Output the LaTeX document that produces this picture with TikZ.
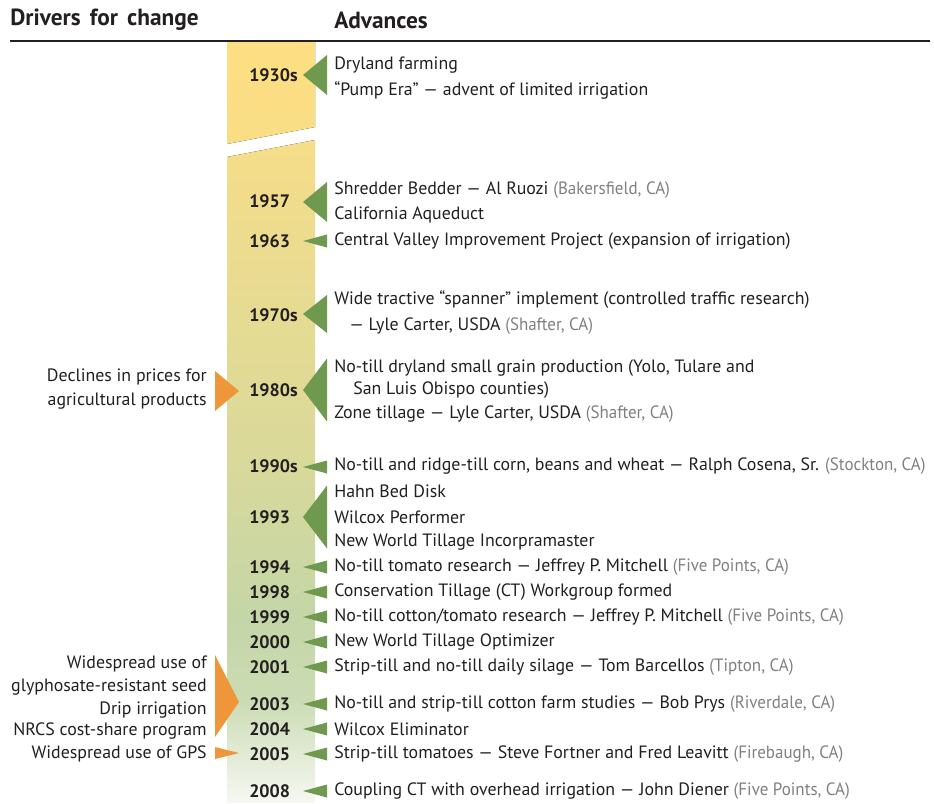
\documentclass[tikz,border=0pt]{standalone}
\usepackage{fontspec}
\setmainfont{PT Sans}
\newfontfamily\locfont[FakeStretch=0.95]{PT Sans}
\definecolor{txt}{RGB}{35,31,32}
\definecolor{locgray}{RGB}{128,128,128}
\definecolor{tgreen}{RGB}{111,153,79}
\definecolor{torange}{RGB}{240,150,58}
\newcommand\locn[1]{{\locfont\color{locgray}#1}}
\tikzset{
  adv/.style={anchor=west,inner sep=0pt,text=txt,font=\fontsize{13.4}{15}\selectfont},
  drv/.style={anchor=east,inner sep=0pt,text=txt,font=\fontsize{13.4}{15}\selectfont},
  yr/.style={anchor=west,inner sep=0pt,text=txt,font=\fontsize{13.5}{15}\selectfont\bfseries},
  hdr/.style={anchor=west,inner sep=0pt,text=txt,font=\fontsize{17.5}{19}\selectfont\bfseries},
  gtri/.style={fill=tgreen},
  otri/.style={fill=torange}
}
\newcommand\gsmall[1]{\fill[gtri] (303,#1) -- (327,{#1-6.5}) -- (327,{#1+6.5}) -- cycle;}
\newcommand\gbig[2]{\fill[gtri] (303,#1) -- (327,{#1-#2}) -- (327,{#1+#2}) -- cycle;}
\begin{document}
\begin{tikzpicture}[x=0.75pt,y=-0.75pt]
\useasboundingbox (0,0) rectangle (934,803);
% header
\node[hdr] (hdrA) at (10,20) {Drivers\hspace{2.5pt} for\hspace{2.5pt} change};
\node[hdr] (hdrB) at (334,20) {Advances};
\draw[txt,line width=1.6pt] (10,41) -- (930,41);
% bar top piece
\fill[top color={rgb,255:red,253;green,222;blue,130},bottom color={rgb,255:red,249;green,222;blue,134}]
  (227,42) -- (315,42) -- (315,127) -- (227,144) -- cycle;
% bar lower piece
\begin{scope}
\clip (227,157) -- (315,140) -- (315,803) -- (227,803) -- cycle;
\fill[top color={rgb,255:red,246;green,221;blue,137},bottom color={rgb,255:red,231;green,219;blue,146}] (227,139) rectangle (315,300.5);
\fill[top color={rgb,255:red,231;green,219;blue,146},bottom color={rgb,255:red,218;green,217;blue,153}] (227,300) rectangle (315,450.5);
\fill[top color={rgb,255:red,218;green,217;blue,153},bottom color={rgb,255:red,196;green,214;blue,167}] (227,450) rectangle (315,620.5);
\fill[top color={rgb,255:red,196;green,214;blue,167},bottom color={rgb,255:red,203;green,220;blue,180}] (227,620) rectangle (315,700.5);
\fill[top color={rgb,255:red,203;green,220;blue,180},bottom color={rgb,255:red,246;green,248;blue,242}] (227,700) rectangle (315,803);
\end{scope}
% years
\node[yr] (y1930) at (249,75) {1930s};
\node[yr] (y1957) at (249,201) {1957};
\node[yr] (y1963) at (249,241) {1963};
\node[yr] (y1970) at (249,315) {1970s};
\node[yr] (y1980) at (249,390) {1980s};
\node[yr] (y1990) at (249,466) {1990s};
\node[yr] (y1993) at (249,517) {1993};
\node[yr] (y1994) at (249,567) {1994};
\node[yr] (y1998) at (249,592) {1998};
\node[yr] (y1999) at (249,617) {1999};
\node[yr] (y2000) at (249,642) {2000};
\node[yr] (y2001) at (249,667) {2001};
\node[yr] (y2003) at (249,704) {2003};
\node[yr] (y2004) at (249,729) {2004};
\node[yr] (y2005) at (249,754) {2005};
\node[yr] (y2008) at (249,791) {2008};
% green triangles
\gbig{75}{20}
\gbig{202}{20}
\gsmall{241}
\gbig{314}{19}
\gbig{390}{31.5}
\gsmall{467}
\gbig{517}{31.5}
\gsmall{567}
\gsmall{592}
\gsmall{617}
\gsmall{642}
\gsmall{667}
\gsmall{704}
\gsmall{729}
\gsmall{754}
\gsmall{791}
% orange triangles
\fill[otri] (215,371) -- (239,391) -- (215,411) -- cycle;
\fill[otri] (215,655) -- (239,702) -- (215,737) -- cycle;
\fill[otri] (215,747) -- (239,753) -- (215,759) -- cycle;
% drivers
\node[drv] (d1a) at (207,377) {Declines in prices for};
\node[drv] (d1b) at (207,401) {agricultural products};
\node[drv] (d2a) at (207,664) {Widespread use of};
\node[drv] (d2b) at (207,687) {glyphosate-resistant seed};
\node[drv] (d2c) at (207,710) {Drip irrigation};
\node[drv] (d2d) at (207,731) {NRCS cost-share program};
\node[drv] (d3) at (207,754) {Widespread use of GPS};
% advances
\node[adv] (a1) at (334,65) {Dryland farming};
\node[adv] (a2) at (334,90) {“Pump Era” — advent of limited irrigation};
\node[adv] (a3) at (334,190) {Shredder Bedder — Al Ruozi \locn{(Bakersfield, CA)}};
\node[adv] (a4) at (334,215) {California Aqueduct};
\node[adv] (a5) at (334,241) {Central Valley Improvement Project (expansion of irrigation)};
\node[adv] (a6) at (334,300) {Wide tractive “spanner” implement (controlled traffic research)};
\node[adv] (a7) at (349,326) {— Lyle Carter, USDA \locn{(Shafter, CA)}};
\node[adv] (a8) at (334,368) {No-till dryland small grain production (Yolo, Tulare and};
\node[adv] (a9) at (353,390) {San Luis Obispo counties)};
\node[adv] (a10) at (334,414) {Zone tillage — Lyle Carter, USDA \locn{(Shafter, CA)}};
\node[adv] (a11) at (334,466) {No-till and ridge-till corn, beans and wheat — Ralph Cosena, Sr. \locn{(Stockton, CA)}};
\node[adv] (a12) at (334,491) {Hahn Bed Disk};
\node[adv] (a13) at (334,517) {Wilcox Performer};
\node[adv] (a14) at (334,542) {New World Tillage Incorpramaster};
\node[adv] (a15) at (334,567) {No-till tomato research — Jeffrey P. Mitchell \locn{(Five Points, CA)}};
\node[adv] (a16) at (334,592) {Conservation Tillage (CT) Workgroup formed};
\node[adv] (a17) at (334,617) {No-till cotton/tomato research — Jeffrey P. Mitchell \locn{(Five Points, CA)}};
\node[adv] (a18) at (334,642) {New World Tillage Optimizer};
\node[adv] (a19) at (334,667) {Strip-till and no-till daily silage — Tom Barcellos \locn{(Tipton, CA)}};
\node[adv] (a20) at (334,704) {No-till and strip-till cotton farm studies — Bob Prys \locn{(Riverdale, CA)}};
\node[adv] (a21) at (334,729) {Wilcox Eliminator};
\node[adv] (a22) at (334,754) {Strip-till tomatoes — Steve Fortner and Fred Leavitt \locn{(Firebaugh, CA)}};
\node[adv] (a23) at (334,791) {Coupling CT with overhead irrigation — John Diener \locn{(Five Points, CA)}};
\end{tikzpicture}
\end{document}
